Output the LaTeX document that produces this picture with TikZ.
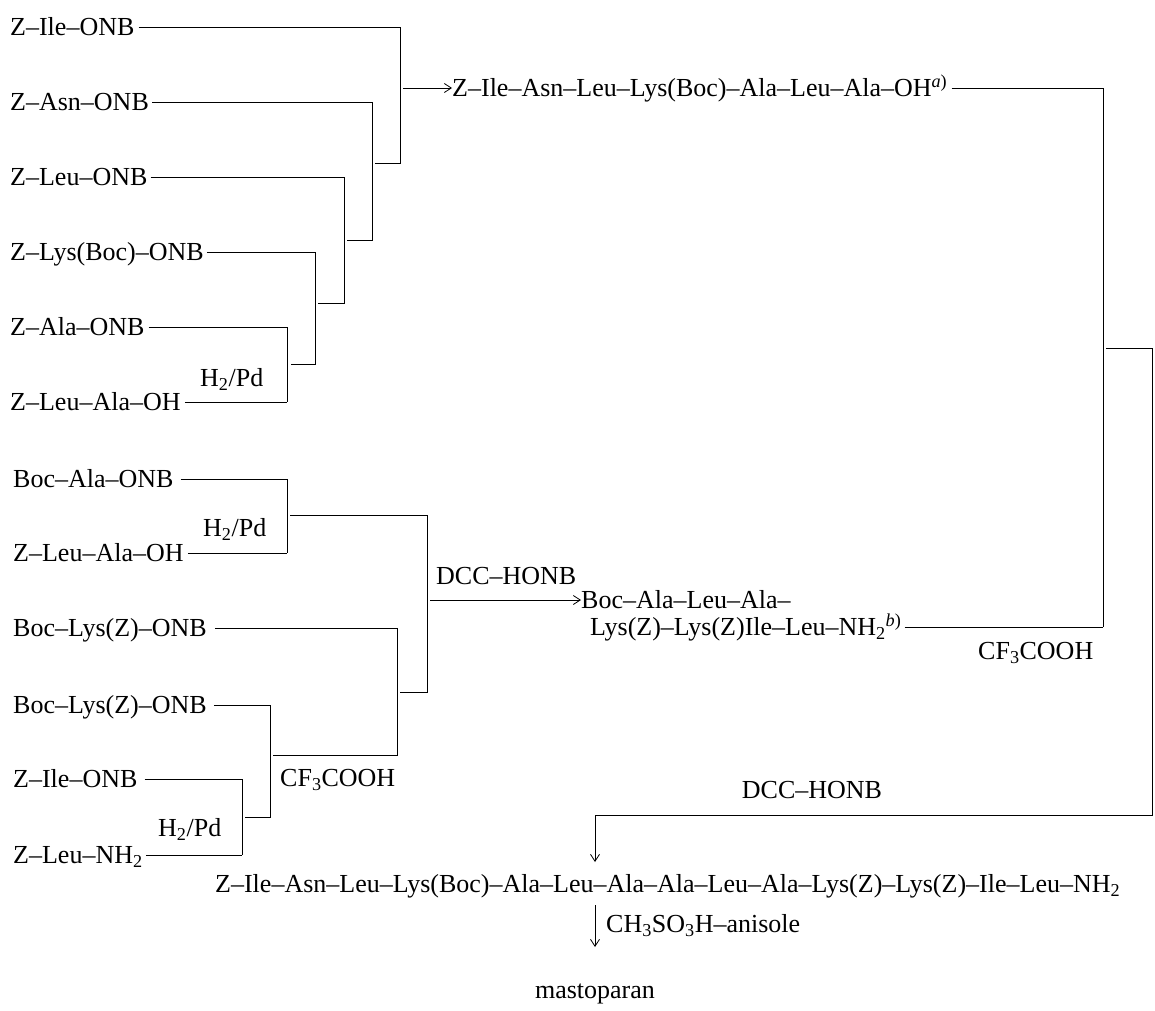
\documentclass[tikz,border=0pt]{standalone}
\usepackage{fontspec}
\setmainfont{Liberation Serif}
\usetikzlibrary{arrows.meta}
\newcommand\sbs[1]{\textsubscript{#1}}
\newcommand\sps[1]{\textsuperscript{\itshape #1\upshape)}}
\tikzset{
  lab/.style={anchor=west, inner sep=0pt, text height=17.5pt, text depth=0pt, font=\fontsize{26}{31}\selectfont},
  wire/.style={line width=0.8pt},
  arr/.style={wire, -{Straight Barb[length=7pt,width=9pt]}}
}
\begin{document}
\begin{tikzpicture}[x=1pt,y=-1pt]
\useasboundingbox[fill=white] (0,0) rectangle (1155,1010);
% ---- top block
\node[lab] (a1) at (10,27) {Z–Ile–ONB};
\node[lab] (a2) at (10,102) {Z–Asn–ONB};
\node[lab] (a3) at (10,177) {Z–Leu–ONB};
\node[lab] (a4) at (10,252) {Z–Lys(Boc)–ONB};
\node[lab] (a5) at (10,327) {Z–Ala–ONB};
\node[lab] (a6) at (10,402) {Z–Leu–Ala–OH};
\node[lab] (h1) at (200,378) {H\sbs{2}/Pd};
\coordinate (v1) at (400,163);
\coordinate (v2) at (372,240);
\coordinate (v3) at (344,303);
\coordinate (v4) at (315,364);
\coordinate (v5) at (287,402);
\draw[wire] ([xshift=4pt]a1.east) -| (v1) -- ++(-25,0);
\draw[wire] ([xshift=3pt]a2.east) -| (v2) -- ++(-25,0);
\draw[wire] ([xshift=3pt]a3.east) -| (v3) -- ++(-26,0);
\draw[wire] ([xshift=3pt]a4.east) -| (v4) -- ++(-24,0);
\draw[wire] ([xshift=4pt]a5.east) -| (v5);
\draw[wire] ([xshift=4pt]a6.east) -- (v5);
\node[lab] (P1) at (452,88) {Z–Ile–Asn–Leu–Lys(Boc)–Ala–Leu–Ala–OH\sps{a}};
\coordinate (t1) at (403,88);
\draw[arr] (t1) -- (P1.west);
% ---- lower block
\node[lab] (b1) at (13,479) {Boc–Ala–ONB};
\node[lab] (b2) at (13,553) {Z–Leu–Ala–OH};
\node[lab] (b3) at (13,628) {Boc–Lys(Z)–ONB};
\node[lab] (b4) at (13,705) {Boc–Lys(Z)–ONB};
\node[lab] (b5) at (13,779) {Z–Ile–ONB};
\node[lab] (b6) at (13,855) {Z–Leu–NH\sbs{2}};
\node[lab] (h2) at (203,528) {H\sbs{2}/Pd};
\node[lab] (h3) at (158,828) {H\sbs{2}/Pd};
\node[lab] (c1) at (280,778) {CF\sbs{3}COOH};
\coordinate (w1) at (287,553);
\coordinate (w2) at (427,692);
\coordinate (w3) at (397,755);
\coordinate (w4) at (270,817);
\coordinate (w5) at (242,855);
\draw[wire] ([xshift=7pt]b1.east) -| (w1);
\draw[wire] ([xshift=4pt]b2.east) -- (w1);
\draw[wire] (290,515) -| (w2) -- ++(-27,0);
\draw[wire] ([xshift=8pt]b3.east) -| (w3) -- ++(-124,0);
\draw[wire] ([xshift=7pt]b4.east) -| (w4) -- ++(-25,0);
\draw[wire] ([xshift=7pt]b5.east) -| (w5);
\draw[wire] ([xshift=3pt]b6.east) -- (w5);
% ---- middle product
\node[lab] (d1) at (436,576) {DCC–HONB};
\node[lab] (P2a) at (581,600) {Boc–Ala–Leu–Ala–};
\node[lab] (P2b) at (590,627) {Lys(Z)–Lys(Z)Ile–Leu–NH\sbs{2}\sps{b}};
\coordinate (m1) at (430,600);
\draw[arr] (m1) -- (P2a.west);
\coordinate (r1) at (1103,627);
\draw[wire] ([xshift=4pt]P1.east) -| (r1);
\draw[wire] ([xshift=3pt]P2b.east) -- (r1);
\node[lab] (c2) at (978,651) {CF\sbs{3}COOH};
% ---- final coupling
\coordinate (s1) at (1106,348);
\coordinate (r2) at (1152,815);
\coordinate (e1) at (595,815);
\coordinate (e2) at (595,862);
\draw[wire] (s1) -| (r2) -- (e1);
\draw[arr] (e1) -- (e2);
\node[lab, anchor=center] (d2) at (812,790) {DCC–HONB};
\node[lab] (F) at (215,884) {Z–Ile–Asn–Leu–Lys(Boc)–Ala–Leu–Ala–Ala–Leu–Ala–Lys(Z)–Lys(Z)–Ile–Leu–NH\sbs{2}};
\coordinate (g1) at (595,905);
\coordinate (g2) at (595,947);
\draw[arr] (g1) -- (g2);
\node[lab] (c3) at (606,924) {CH\sbs{3}SO\sbs{3}H–anisole};
\node[lab, anchor=center] (M) at (595,990) {mastoparan};
\end{tikzpicture}
\end{document}
